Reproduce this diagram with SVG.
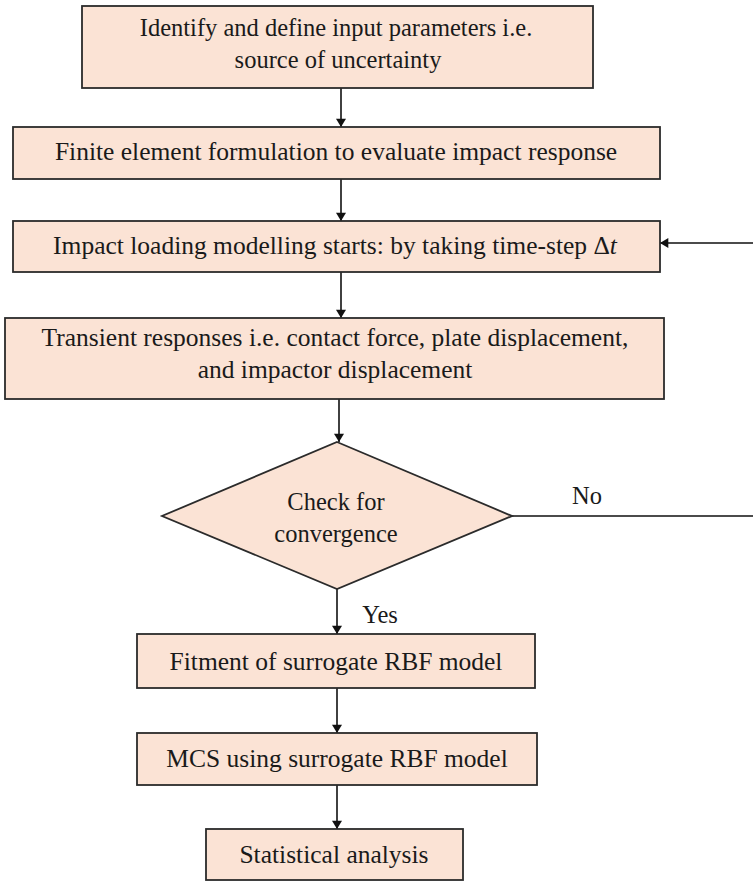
<svg xmlns="http://www.w3.org/2000/svg" width="753" height="882" viewBox="0 0 753 882">
  <style>
    .box { fill: #FBE3D5; stroke: #2b2b2b; stroke-width: 1.8; }
    .lbl { font-family: "Liberation Serif", "Times New Roman", "DejaVu Serif", serif; font-size: 24.5px; fill: #1a1a1a; text-anchor: middle; }
    .big { font-size: 25.5px; }
    .edge { fill: none; stroke: #111; stroke-width: 1.6; }
    .arr { marker-end: url(#arrow); }
  </style>
  <defs>
    <marker id="arrow" viewBox="0 0 10 12" refX="10" refY="6" markerWidth="12" markerHeight="10" markerUnits="userSpaceOnUse" orient="auto">
      <path d="M0,0 L10,6 L0,12 z" fill="#111"/>
    </marker>
  </defs>
  <rect width="753" height="882" fill="#fff"/>

  <!-- flow connectors; the "No" loop runs past the right edge back into the loading step -->
  <g id="connectors">
    <path class="edge arr" d="M341,88 V127"/>
    <path class="edge arr" d="M341,179 V221"/>
    <path class="edge arr" d="M341,272 V318"/>
    <path class="edge arr" d="M339,399 V442"/>
    <path class="edge arr" d="M337,589 V634"/>
    <path class="edge arr" d="M337,688 V733"/>
    <path class="edge arr" d="M337,785 V829"/>
    <path class="edge arr" d="M512,516 H760 V243 H660"/>
    <text class="lbl" x="587" y="504">No</text>
    <text class="lbl" x="380" y="623">Yes</text>
  </g>

  <g id="n1">
    <rect class="box" x="82" y="6" width="511" height="82"/>
    <text class="lbl" x="336" y="36">Identify and define input parameters i.e.</text>
    <text class="lbl" x="338" y="68">source of uncertainty</text>
  </g>

  <g id="n2">
    <rect class="box" x="13" y="127" width="647" height="52"/>
    <text class="lbl big" x="336" y="160">Finite element formulation to evaluate impact response</text>
  </g>

  <g id="n3">
    <rect class="box" x="13" y="221" width="647" height="51"/>
    <text class="lbl big" x="335" y="254">Impact loading modelling starts: by taking time-step  Δ<tspan font-style="italic">t</tspan></text>
  </g>

  <g id="n4">
    <rect class="box" x="5" y="318" width="659" height="81"/>
    <text class="lbl big" x="335" y="346">Transient responses i.e. contact force, plate displacement,</text>
    <text class="lbl big" x="335" y="378">and impactor displacement</text>
  </g>

  <g id="n5">
    <polygon class="box" points="337,442 512,516 337,589 162,516"/>
    <text class="lbl" x="336" y="510">Check for</text>
    <text class="lbl" x="336" y="542">convergence</text>
  </g>

  <g id="n6">
    <rect class="box" x="137" y="634" width="398" height="54"/>
    <text class="lbl big" x="336" y="670">Fitment of surrogate RBF model</text>
  </g>

  <g id="n7">
    <rect class="box" x="137" y="733" width="400" height="52"/>
    <text class="lbl big" x="337" y="767">MCS using surrogate RBF model</text>
  </g>

  <g id="n8">
    <rect class="box" x="206" y="829" width="257" height="51"/>
    <text class="lbl big" x="334" y="863">Statistical analysis</text>
  </g>
</svg>
